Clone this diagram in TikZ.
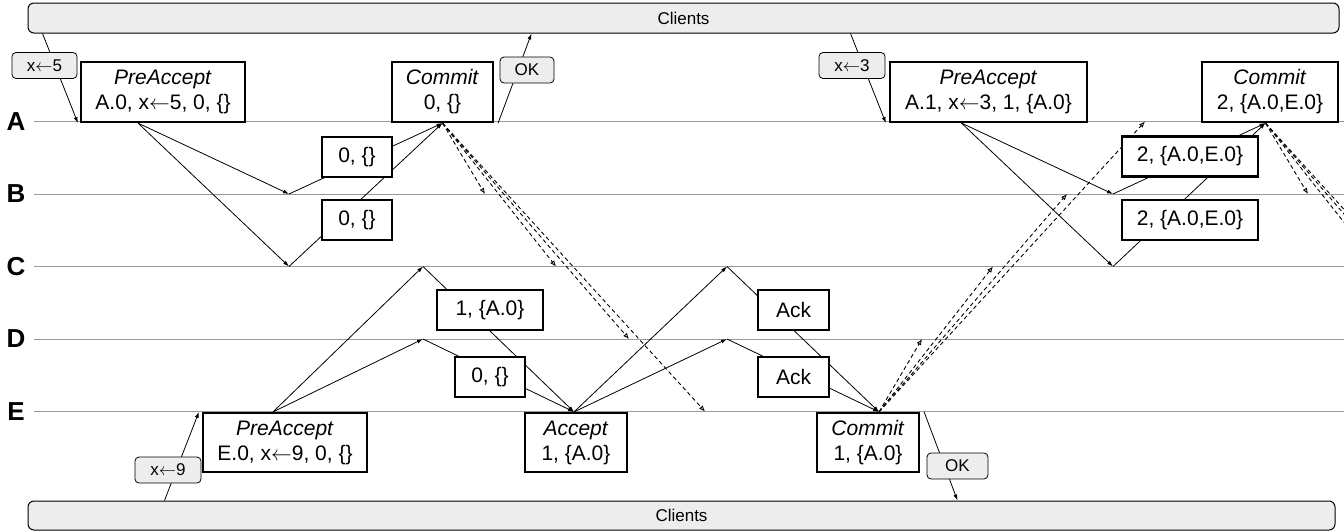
\documentclass[tikz,border=0pt]{standalone}
\usepackage{fontspec}
\setmainfont{Liberation Sans}
\usepackage{xcolor}
\usepackage{tikz}
\usetikzlibrary{arrows.meta}

\newcommand{\lto}{\ensuremath{\leftarrow}}

\begin{document}
\begin{tikzpicture}[
    x=1pt, y=-1pt,
    phase/.style={rectangle, draw, line width=2.2pt, fill=white, align=center, inner sep=0pt, minimum height=60pt, font=\fontsize{21}{25}\selectfont},
    vote/.style={rectangle, draw, line width=2.2pt, fill=white, inner sep=0pt, minimum height=40pt, font=\fontsize{21}{25}\selectfont},
    req/.style={rectangle, rounded corners=4pt, draw, line width=0.8pt, fill=black!7, inner sep=0pt, minimum height=26pt, font=\fontsize{17}{20}\selectfont},
    clients/.style={rectangle, rounded corners=6pt, draw, line width=1pt, fill=black!7, inner sep=0pt, font=\fontsize{17}{20}\selectfont},
    lane/.style={draw=black!40, line width=1pt},
    lanelabel/.style={font=\bfseries\fontsize{26}{26}\selectfont},
    arrow/.style={-{Latex[length=6pt, width=4pt]}, line width=0.8pt},
    commitarrow/.style={-{Latex[open, length=6pt, width=5pt]}, dash pattern=on 4pt off 3pt, line width=0.9pt}
]
    \useasboundingbox (0,0) rectangle (1344,531);
    \clip (0,0) rectangle (1344,531);

    \draw[lane] (34,121.5) -- (1344,121.5);
    \draw[lane] (34,194) -- (1344,194);
    \draw[lane] (34,266.5) -- (1344,266.5);
    \draw[lane] (34,339) -- (1344,339);
    \draw[lane] (34,411.5) -- (1344,411.5);
    \node[lanelabel] (laneA) at (16,121.5) {A};
    \node[lanelabel] (laneB) at (16,194) {B};
    \node[lanelabel] (laneC) at (16,266.5) {C};
    \node[lanelabel] (laneD) at (16,339) {D};
    \node[lanelabel] (laneE) at (16,411.5) {E};

    \node[clients, minimum width=1311pt, minimum height=30pt] (top) at (683.5,18) {Clients};
    \node[clients, minimum width=1307pt, minimum height=29pt] (bottom) at (681.5,515.5) {Clients};

    \node[phase, minimum width=164pt] (preA0) at (163,92) {\textit{PreAccept}\\A.0, x\lto5, 0, \{\}};
    \node[phase, minimum width=101pt] (commitA0) at (442.5,92) {\textit{Commit}\\0, \{\}};
    \node[phase, minimum width=164pt, minimum height=59pt] (preE0) at (285,442.5) {\textit{PreAccept}\\E.0, x\lto9, 0, \{\}};
    \node[phase, minimum width=102pt, minimum height=59pt] (acceptE0) at (576,442.5) {\textit{Accept}\\1, \{A.0\}};
    \node[phase, minimum width=102pt, minimum height=59pt] (commitE0) at (868,442.5) {\textit{Commit}\\1, \{A.0\}};
    \node[phase, minimum width=197pt] (preA1) at (988.5,92) {\textit{PreAccept}\\A.1, x\lto3, 1, \{A.0\}};
    \node[phase, minimum width=136pt] (commitA1) at (1270,92) {\textit{Commit}\\2, \{A.0,E.0\}};

    \coordinate (b0) at (289,194);
    \coordinate (c0) at (289,266.5);
    \coordinate (c1) at (423,266.5);
    \coordinate (d1) at (423,339);
    \coordinate (c2) at (727,266.5);
    \coordinate (d2) at (727,339);
    \coordinate (b3) at (1113,194);
    \coordinate (c3) at (1113,266.5);

    \coordinate (cmA0b) at (485,194);
    \coordinate (cmA0c) at (556,266.5);
    \coordinate (cmA0d) at (629,339);
    \coordinate (cmA0e) at (705,411.5);
    \coordinate (cmE0d) at (922,339);
    \coordinate (cmE0c) at (993,266.5);
    \coordinate (cmE0b) at (1067,194);
    \coordinate (cmE0a) at (1145,121.5);
    \coordinate (cmA1b) at (1308,194);
    \coordinate (cmA1c) at (1379,266.5);
    \coordinate (cmA1d) at (1452,339);
    \coordinate (cmA1e) at (1528,411.5);

    \draw[arrow] ([xshift=15pt]top.south west) -- ([xshift=-2pt]preA0.south west);
    \draw[arrow] ([xshift=-25pt]preA0.south) -- (b0);
    \draw[arrow] ([xshift=-25pt]preA0.south) -- (c0);
    \draw[arrow] (b0) -- (commitA0.south);
    \draw[arrow] (c0) -- (commitA0.south);
    \draw[arrow] ([xshift=4pt]commitA0.south east) -- ([xshift=504pt]top.south west);
    \draw[commitarrow] (commitA0.south) -- (cmA0b);
    \draw[commitarrow] (commitA0.south) -- (cmA0c);
    \draw[commitarrow] (commitA0.south) -- (cmA0d);
    \draw[commitarrow] (commitA0.south) -- (cmA0e);

    \draw[arrow] ([xshift=137pt]bottom.north west) -- ([xshift=-3pt]preE0.north west);
    \draw[arrow] ([xshift=-12pt]preE0.north) -- (c1);
    \draw[arrow] ([xshift=-12pt]preE0.north) -- (d1);
    \draw[arrow] (c1) -- ([xshift=-2pt]acceptE0.north);
    \draw[arrow] (d1) -- ([xshift=-2pt]acceptE0.north);
    \draw[arrow] ([xshift=-2pt]acceptE0.north) -- (c2);
    \draw[arrow] ([xshift=-2pt]acceptE0.north) -- (d2);
    \draw[arrow] (c2) -- ([xshift=11pt]commitE0.north);
    \draw[arrow] (d2) -- ([xshift=11pt]commitE0.north);
    \draw[arrow] ([xshift=4pt]commitE0.north east) -- ([xshift=930pt]bottom.north west);
    \draw[commitarrow] ([xshift=11pt]commitE0.north) -- (cmE0d);
    \draw[commitarrow] ([xshift=11pt]commitE0.north) -- (cmE0c);
    \draw[commitarrow] ([xshift=11pt]commitE0.north) -- (cmE0b);
    \draw[commitarrow] ([xshift=11pt]commitE0.north) -- (cmE0a);

    \draw[arrow] ([xshift=823pt]top.south west) -- ([xshift=-3pt]preA1.south west);
    \draw[arrow] ([xshift=-27pt]preA1.south) -- (b3);
    \draw[arrow] ([xshift=-27pt]preA1.south) -- (c3);
    \draw[arrow] (b3) -- ([xshift=-4.5pt]commitA1.south);
    \draw[arrow] (c3) -- ([xshift=-4.5pt]commitA1.south);
    \draw[commitarrow] ([xshift=-4.5pt]commitA1.south) -- (cmA1b);
    \draw[commitarrow] ([xshift=-4.5pt]commitA1.south) -- (cmA1c);
    \draw[commitarrow] ([xshift=-4.5pt]commitA1.south) -- (cmA1d);
    \draw[commitarrow] ([xshift=-4.5pt]commitA1.south) -- (cmA1e);

    \node[vote, minimum width=70pt] (voteB0) at (357,157) {0, \{\}};
    \node[vote, minimum width=70pt] (voteC0) at (357,220) {0, \{\}};
    \node[vote, minimum width=106pt] (voteC1) at (490,310) {1, \{A.0\}};
    \node[vote, minimum width=70pt] (voteD1) at (490,377) {0, \{\}};
    \node[vote, minimum width=71pt] (ackC2) at (793.5,310) {Ack};
    \node[vote, minimum width=71pt] (ackD2) at (793.5,377) {Ack};
    \node[vote, minimum width=136pt] (voteB3) at (1190,156.5) {2, \{A.0,E.0\}};
    \node[vote, minimum width=136pt] (voteC3) at (1190,220) {2, \{A.0,E.0\}};

    \node[req, minimum width=65pt] (set5) at (44.5,65.5) {x\lto5};
    \node[req, minimum width=54pt] (okA0) at (527,70) {OK};
    \node[req, minimum width=66pt] (set3) at (852,65.5) {x\lto3};
    \node[req, minimum width=66pt] (set9) at (168,470) {x\lto9};
    \node[req, minimum width=61pt] (okE0) at (957.5,466) {OK};
\end{tikzpicture}
\end{document}
